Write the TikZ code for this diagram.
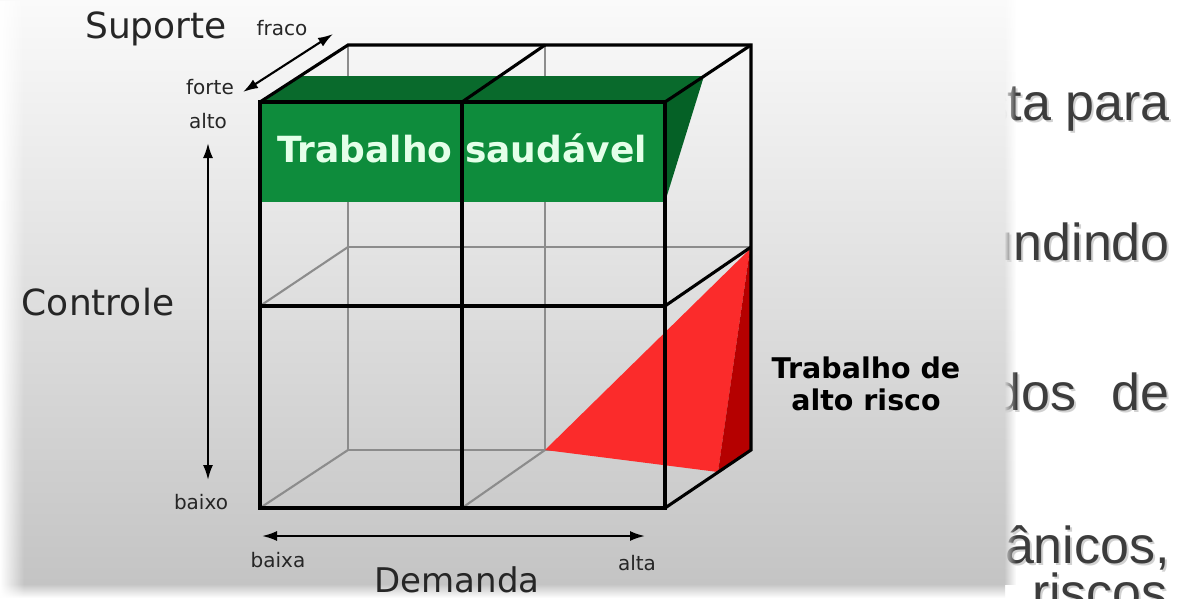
\documentclass[tikz,border=0pt]{standalone}
\usepackage{fontspec}
\setmainfont{DejaVu Sans}
\newfontfamily\slidefont{Liberation Sans}
\usetikzlibrary{arrows.meta,fadings}
\definecolor{panelTop}{HTML}{FAFAFA}
\definecolor{panelBot}{HTML}{C4C4C4}
\definecolor{gfront}{HTML}{0E8C3C}
\definecolor{gtop}{HTML}{096A2C}
\definecolor{gside}{HTML}{056126}
\definecolor{rfront}{HTML}{FB2B2B}
\definecolor{rside}{HTML}{B50000}
\definecolor{hid}{HTML}{8C8C8C}
\definecolor{mint}{HTML}{E4FFE9}
\definecolor{slidetext}{HTML}{3C3C3C}
\definecolor{labeltext}{HTML}{262626}
\begin{document}
\begin{tikzpicture}[x=1pt,y=-1pt,
  visible/.style={black,line width=3.1pt},
  hidden/.style={hid,line width=2.1pt},
  axis/.style={black,line width=2.1pt,{Latex[length=15pt,width=10pt]}-{Latex[length=15pt,width=10pt]}},
  small/.style={font=\fontsize{20}{22}\selectfont, text=labeltext, anchor=base, inner sep=0},
  big/.style={font=\fontsize{36}{40}\selectfont, text=labeltext, anchor=base, inner sep=0},
  slide/.style={font=\slidefont\fontsize{52}{56}\selectfont, text=slidetext, anchor=base east, inner sep=0},
  slideshadow/.style={font=\slidefont\fontsize{52}{56}\selectfont, text=black!18, anchor=base east, inner sep=0},
  boldlabel/.style={font=\bfseries\fontsize{28.5}{32}\selectfont, text=black, anchor=base, inner sep=0},
]
\useasboundingbox (0,0) rectangle (1184,598);
\fill[white] (0,0) rectangle (1184,598);

% slide text partly hidden behind the picture
\node[slideshadow] at (1172,122) {sta para};
\node[slide] (t1) at (1170,120) {sta para};
\node[slideshadow] at (1172,262) {undindo};
\node[slide] (t2) at (1170,260) {undindo};
\node[slideshadow] at (1079,412) {dos};
\node[slide] (t3a) at (1077,410) {dos};
\node[slideshadow] at (1172,412) {de};
\node[slide] (t3b) at (1170,410) {de};
\node[slideshadow] at (1172,565) {cânicos,};
\node[slide] (t4) at (1170,563) {cânicos,};
\node[slideshadow] at (1170,612) {riscos};
\node[slide] (t5) at (1168,610) {riscos};

% picture panel
\shade[top color=panelTop, bottom color=panelBot] (0,0) rectangle (1005,584);
\path[shade, top color=panelTop, bottom color=panelBot, path fading=east] (1004,0) rectangle (1016,584);
\shade[top color=panelBot, bottom color=white] (0,584) rectangle (1005,598);
\fill[white, path fading=east] (0,0) rectangle (24,598);

% coordinates of the cube
\coordinate (FTL) at (260,102); \coordinate (FTM) at (462,102); \coordinate (FTR) at (665,102);
\coordinate (FML) at (260,306); \coordinate (FMM) at (462,306); \coordinate (FMR) at (665,306);
\coordinate (FBL) at (260,508); \coordinate (FBM) at (462,508); \coordinate (FBR) at (665,508);
\coordinate (BTL) at (348,45);  \coordinate (BTM) at (545,45);  \coordinate (BTR) at (751,45);
\coordinate (BML) at (348,247); \coordinate (BMM) at (545,247); \coordinate (BMR) at (751,247);
\coordinate (BBL) at (348,450); \coordinate (BBM) at (545,450); \coordinate (BBR) at (751,450);

% hidden edges
\draw[hidden] (BTL) -- (BBL) -- (BBR);
\draw[hidden] (BTM) -- (BBM);
\draw[hidden] (BML) -- (BMR);
\draw[hidden] (FML) -- (BML);
\draw[hidden] (FBL) -- (BBL);
\draw[hidden] (FBM) -- (BBM);

% green slab (healthy work)
\coordinate (GTL) at (300,76); \coordinate (GTR) at (704,76);
\coordinate (GBL) at (260,202); \coordinate (GBR) at (665,202);
\fill[gtop] (FTL) -- (FTR) -- (GTR) -- (GTL) -- cycle;
\fill[gside] (FTR) -- (GTR) -- (GBR) -- cycle;
\fill[gfront] (FTL) -- (FTR) -- (GBR) -- (GBL) -- cycle;

% red wedge (high risk work)
\coordinate (RT) at (750,249); \coordinate (RB) at (718,472);
\fill[rfront] (BBM) -- (RT) -- (RB) -- cycle;
\fill[rside] (RT) -- (BBR) -- (RB) -- cycle;

% visible edges
\draw[visible] (FTL) rectangle (FBR);
\draw[visible] (FTM) -- (FBM);
\draw[visible] (FML) -- (FMR);
\draw[visible] (FTL) -- (BTL) -- (BTR) -- (BBR) -- (FBR);
\draw[visible] (FTM) -- (BTM);
\draw[visible] (FTR) -- (BTR);
\draw[visible] (FMR) -- (BMR);

% texts in the cube
\node[font=\bfseries\fontsize{36}{40}\selectfont, text=mint, anchor=base, inner sep=0] (healthy) at (462,162) {Trabalho saudável};
\node[boldlabel] (risk1) at (866,378) {Trabalho de};
\node[boldlabel] (risk2) at (866,410) {alto risco};

% axes
\node[big] (sup) at (156,38) {Suporte};
\node[small] (fraco) at (282,35) {fraco};
\node[small] (forte) at (210,94) {forte};
\node[small] (alto) at (208,128) {alto};
\node[big] (ctrl) at (98,315) {Controle};
\node[small] (baixo) at (201,509) {baixo};
\node[small] (baixa) at (278,567) {baixa};
\node[small] (alta) at (637,570) {alta};
\node[big, font=\fontsize{34}{38}\selectfont] (dem) at (457,592) {Demanda};

\coordinate (s1) at (243,92); \coordinate (s2) at (333,34);
\coordinate (c1) at (208,143); \coordinate (c2) at (208,480);
\coordinate (d1) at (262,536); \coordinate (d2) at (645,536);
\draw[axis] (s1) -- (s2);
\draw[axis] (c1) -- (c2);
\draw[axis] (d1) -- (d2);
\end{tikzpicture}
\end{document}
